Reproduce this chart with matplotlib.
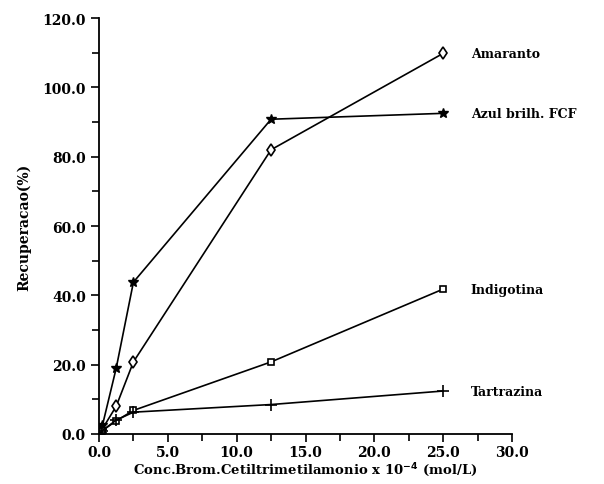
import numpy as np
import matplotlib.pyplot as plt
from matplotlib.ticker import MultipleLocator, FormatStrFormatter

# concentration (x 10^-4 mol/L)
conc = [0.125, 0.25, 1.25, 2.5, 12.5, 25.0]

amaranto = [0.5, 1.5, 8.0, 20.8, 82.0, 109.8]
azul = [1.0, 2.5, 19.0, 43.8, 90.8, 92.5]
indigotina = [0.5, 1.0, 3.8, 6.8, 20.8, 41.8]
tartrazina = [0.3, 1.0, 4.0, 6.3, 8.5, 12.4]

labels = ['Amaranto', 'Azul brilh. FCF', 'Indigotina', 'Tartrazina']

fig = plt.figure(figsize=(6.04, 4.85), dpi=100)
ax = fig.add_axes([99 / 604, 1 - 435 / 485, (512 - 99) / 604, (435 - 19) / 485])

font = {'family': 'DejaVu Serif', 'weight': 'bold'}

ax.plot(conc, amaranto, color='black', lw=1.2, marker='d', ms=6.5,
        mfc='white', mec='black', mew=1.2)
ax.plot(conc, azul, color='black', lw=1.2, marker='*', ms=7,
        mfc='black', mec='black')
ax.plot(conc, indigotina, color='black', lw=1.2, marker='s', ms=5,
        mfc='white', mec='black', mew=1.2)
ax.plot(conc, tartrazina, color='black', lw=1.2, marker='+', ms=8,
        mew=1.2)

# series names next to the last point
for series, name in zip([amaranto, azul, indigotina, tartrazina], labels):
    ax.text(27.0, series[-1], name, fontsize=9, va='center', ha='left',
            clip_on=False, **font)

ax.set_xlim(0, 30)
ax.set_ylim(0, 120)
ax.xaxis.set_major_locator(MultipleLocator(5))
ax.xaxis.set_minor_locator(MultipleLocator(2.5))
ax.yaxis.set_major_locator(MultipleLocator(20))
ax.yaxis.set_minor_locator(MultipleLocator(10))
ax.xaxis.set_major_formatter(FormatStrFormatter('%.1f'))
ax.yaxis.set_major_formatter(FormatStrFormatter('%.1f'))

ax.spines['top'].set_visible(False)
ax.spines['right'].set_visible(False)
ax.spines['left'].set_linewidth(1.3)
ax.spines['bottom'].set_linewidth(1.3)
ax.tick_params(which='major', direction='out', length=6, width=1.2)
ax.tick_params(which='minor', direction='out', length=5, width=1.2)
ax.tick_params(axis='x', which='major', pad=2)

for lbl in ax.get_xticklabels() + ax.get_yticklabels():
    lbl.set_fontfamily('DejaVu Serif')
    lbl.set_fontweight('bold')
    lbl.set_fontsize(10)

ax.set_ylabel('Recuperacao(%)', fontsize=10, labelpad=8, **font)
ax.set_xlabel(r'Conc.Brom.Cetiltrimetilamonio x 10$^{\mathbf{-4}}$ (mol/L)',
              fontsize=9.5, labelpad=1, **font)

fig.savefig('out.png', dpi=100)
